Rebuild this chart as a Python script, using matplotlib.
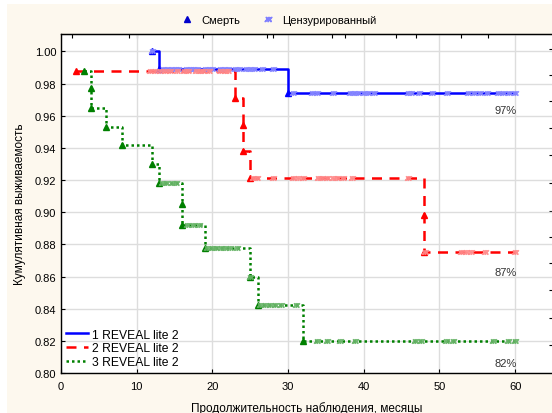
import numpy as np
import matplotlib
matplotlib.use('Agg')
import matplotlib.pyplot as plt
from matplotlib.lines import Line2D
from matplotlib.patches import Rectangle

plt.rcParams['font.family'] = ['Liberation Sans', 'DejaVu Sans']
plt.rcParams['font.size'] = 8

# Kaplan-Meier: moments of events and survival after each of them
t1 = [12, 13, 30]
s1 = [1.0, 0.989, 0.974]
t2 = [2, 23, 24, 24, 25, 48, 48]
s2 = [0.988, 0.971, 0.954, 0.938, 0.921, 0.898, 0.875]
t3 = [3, 4, 4, 6, 8, 12, 13, 16, 16, 19, 25, 26, 32]
s3 = [0.988, 0.977, 0.965, 0.953, 0.942, 0.930, 0.918, 0.905, 0.892, 0.878, 0.860, 0.842, 0.820]

# censored observations (months)
c1 = [12, 13.5, 14, 14.5, 15, 15.5, 16.5, 17, 17.5, 18, 19, 19.5, 20, 21, 21.5, 22,
      23, 23.5, 24.5, 25, 25.5, 26.5, 28,
      30.7, 33.1, 33.8, 36.0, 38.2, 38.7, 39.3, 40, 40.6, 41.3, 45.8, 46.3, 47.3,
      49.0, 51.0, 53.8, 54.6, 55.4, 56.3, 57.7, 58.4, 59.2, 60]
c2 = [11.8, 12.4, 13.1, 13.7, 14.4, 15.3, 16.2, 16.8, 17.9, 18.4, 18.8, 19.5, 21.0,
      21.7, 22.1,
      25.3, 25.9, 28.0, 30.7, 31.3, 32.0, 34.0, 34.5, 35.2, 35.9, 36.5, 37.2, 38.4, 45.8,
      48.1, 52.9, 53.5, 54.2, 56.0, 60.0]
c3 = [13.3, 13.9, 14.6, 15.2, 16.6, 17.4, 18.2,
      19.3, 19.9, 20.5, 21.1, 21.7, 22.3, 23.2, 25.0,
      26.3, 26.9, 27.6, 28.3, 29.0, 31.0,
      33.8, 35.1, 36.9, 38.8, 46.8, 47.6, 50.9, 51.8, 57.1, 59.1, 60.0]

groups = ['1 REVEAL lite 2', '2 REVEAL lite 2', '3 REVEAL lite 2']
final_pct = ['97%', '87%', '82%']
t_end = 60

colors = ['#0000ff', '#ff0000', '#008000']
cens_colors = ['#8888ff', '#ff8888', '#66b366']
styles = ['-', (0, (4, 3)), (0, (1, 1.2))]
pct_y = [0.9635, 0.863, 0.806]


def surv_at(tt, ss, x):
    idx = np.searchsorted(np.array(tt), np.array(x), side='right') - 1
    idx = np.clip(idx, 0, len(ss) - 1)
    return np.array(ss)[idx]


fig = plt.figure(figsize=(5.52, 4.14), dpi=100, facecolor='white')
fig.patches.append(Rectangle((7 / 552, 0), 1, 1 - 5 / 414, transform=fig.transFigure,
                             facecolor='#fdf8ee', edgecolor='none', zorder=-10))
ax = fig.add_axes([61 / 552, 1 - 374 / 414, 492 / 552, 338.7 / 414])
ax.set_facecolor('white')

for i, (tt, ss, cc) in enumerate([(t1, s1, c1), (t2, s2, c2), (t3, s3, c3)]):
    xs = list(tt) + [t_end]
    ys = list(ss) + [ss[-1]]
    ax.step(xs, ys, where='post', color=colors[i], linestyle=styles[i], lw=1.8,
            label=groups[i], zorder=3)
    ax.plot(tt, ss, linestyle='none', marker='^', ms=4.5, color=colors[i], zorder=4)
    ax.plot(cc, surv_at(tt, ss, cc), linestyle='none', marker='$ж$', ms=4.5,
            color=cens_colors[i], alpha=0.85, zorder=4)
    ax.text(60.2, pct_y[i], final_pct[i], ha='right', va='center', color='#333333', fontsize=8)

ax.set_xlim(0, 65.0)
ax.set_ylim(0.80, 1.0106)
ax.set_xticks(np.arange(0, 61, 10))
ax.set_yticks(np.arange(0.80, 1.001, 0.02))
ax.set_yticklabels(['%.2f' % v for v in np.arange(0.80, 1.001, 0.02)])
ax.grid(True, color='#dddddd', lw=1)
ax.set_axisbelow(True)
ax.tick_params(direction='in', length=3, colors='black', labelsize=8)
ax.tick_params(axis='x', pad=6)
for sp in ax.spines.values():
    sp.set_color('black')
    sp.set_linewidth(1)

# extra tick marks on top and right
top = ax.secondary_xaxis('top')
top.set_xticks([1.5, 9.0, 10, 18.7, 27.2, 28, 35.8, 37.5, 44.3, 46.9, 52.8, 56.4])
top.tick_params(direction='in', length=3, labeltop=False)
right = ax.secondary_yaxis('right')
right.set_yticks([1.0012, 0.9853, 0.9691, 0.9521, 0.9353, 0.9179, 0.9007, 0.8848,
                  0.8686, 0.8514, 0.8340, 0.8172])
right.tick_params(direction='in', length=3, labelright=False)

ax.set_xlabel('Продолжительность наблюдения, месяцы', fontsize=8.5, labelpad=7)
ax.set_ylabel('Кумулятивная выживаемость', fontsize=8.5, labelpad=6)

ax.legend(loc='lower left', frameon=False, fontsize=8.7, handlelength=1.8,
          handletextpad=0.4, borderaxespad=0.0, labelspacing=0.15)

marks = [Line2D([], [], linestyle='none', marker='^', ms=4, color='#0000cc'),
         Line2D([], [], linestyle='none', marker='$ж$', ms=5, color='#8080ff')]
fig.legend(marks, ['Смерть', 'Цензурированный'], loc='upper center',
           bbox_to_anchor=(0.5, 0.985), ncol=2, frameon=False, fontsize=8,
           handletextpad=0.3, columnspacing=1.5)

fig.savefig('out.png', dpi=100, facecolor=fig.get_facecolor())
